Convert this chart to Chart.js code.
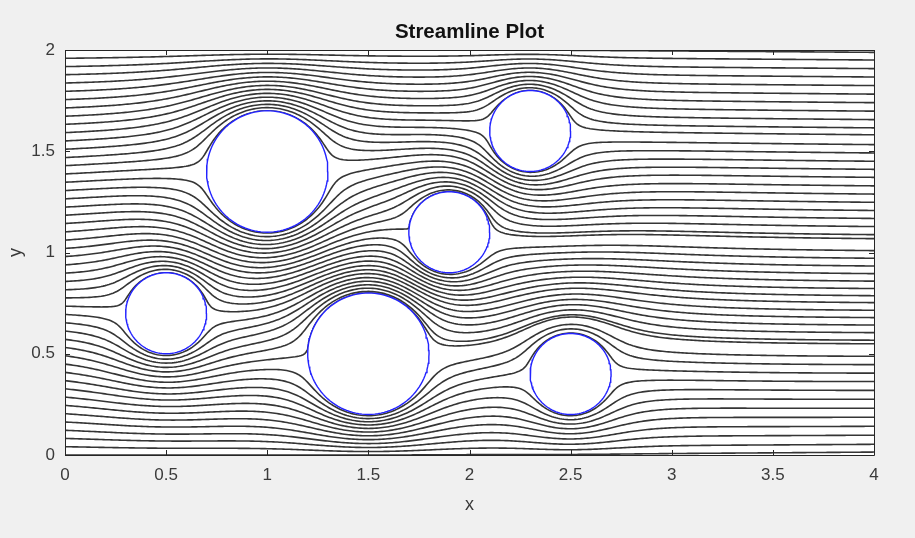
<!DOCTYPE html>
<html>
<head>
<meta charset="utf-8">
<script src="https://cdn.jsdelivr.net/npm/chart.js@4.4.1/dist/chart.umd.min.js"></script>
<style>
  html, body { margin: 0; padding: 0; background: #f0f0f0; }
</style>
</head>
<body>
<canvas id="c" width="915" height="538"></canvas>
<script>
// Cylindrical obstacles placed in the channel 0 <= x <= 4, 0 <= y <= 2
const obstacleX = [0.5, 1.0, 1.5, 1.9, 2.3, 2.5];
const obstacleY = [0.7, 1.4, 0.5, 1.1, 1.6, 0.4];
const obstacleR = [0.2, 0.3, 0.3, 0.2, 0.2, 0.2];

// Streamline start heights along the inlet x = 0
const seedY = [0, 0.041, 0.082, 0.122, 0.163, 0.204, 0.245, 0.286, 0.327, 0.367,
  0.408, 0.449, 0.490, 0.531, 0.571, 0.612, 0.653, 0.694, 0.735, 0.776,
  0.816, 0.857, 0.898, 0.939, 0.980, 1.020, 1.061, 1.102, 1.143, 1.184,
  1.224, 1.265, 1.306, 1.347, 1.388, 1.429, 1.469, 1.510, 1.551, 1.592,
  1.633, 1.673, 1.714, 1.755, 1.796, 1.837, 1.878, 1.918, 1.959, 2.0];

// Axis ticks
const xTicks = [0, 0.5, 1, 1.5, 2, 2.5, 3, 3.5, 4];
const yTicks = [0, 0.5, 1, 1.5, 2];

const X_MIN = 0, X_MAX = 4, Y_MIN = 0, Y_MAX = 2;
const FONT = "'Liberation Sans', Arial, Helvetica, sans-serif";
const TEXT = '#3a3a3a';

// ---- Potential flow through the channel ----------------------------------
// Uniform stream plus doublets. Each cylinder and each wall reflects the
// doublets of the others (circle theorem / mirror images), a few levels deep.
const reflectors = obstacleX.map((cx, i) => ({ kind: 'circle', cx, cy: obstacleY[i], r2: obstacleR[i] ** 2 }))
  .concat([{ kind: 'wall', y: Y_MIN }, { kind: 'wall', y: Y_MAX }]);

function reflect(d, r) {
  if (r.kind === 'wall') {
    return { mr: d.mr, mi: -d.mi, bx: d.bx, by: 2 * r.y - d.by };
  }
  const qx = d.bx - r.cx, qy = d.by - r.cy;
  const q2 = qx * qx + qy * qy;
  const q4 = q2 * q2;
  // mu' = -R^2 * conj(mu) * q^2 / |q|^4, placed at c + R^2 q / |q|^2
  const sr = (qx * qx - qy * qy) / q4, si = (2 * qx * qy) / q4;
  const cr = d.mr, ci = -d.mi;
  return {
    mr: -r.r2 * (cr * sr - ci * si),
    mi: -r.r2 * (cr * si + ci * sr),
    bx: r.cx + r.r2 * qx / q2,
    by: r.cy + r.r2 * qy / q2
  };
}

const doublets = [];
let generation = reflectors.slice(0, obstacleX.length).map((r, i) => ({ mr: r.r2, mi: 0, bx: r.cx, by: r.cy, src: i }));
doublets.push(...generation);
for (let lvl = 0; lvl < 4; lvl++) {
  const next = [];
  generation.forEach((d) => {
    reflectors.forEach((r, j) => {
      if (j === d.src) return;
      const img = reflect(d, r);
      img.src = j;
      if (Math.hypot(img.mr, img.mi) < 4e-4) return;
      if (img.by < -5 || img.by > 7) return;
      next.push(img);
    });
  });
  doublets.push(...next);
  generation = next;
}
const DN = doublets.length;
const dMr = new Float64Array(DN), dMi = new Float64Array(DN), dBx = new Float64Array(DN), dBy = new Float64Array(DN);
doublets.forEach((d, i) => { dMr[i] = d.mr; dMi[i] = d.mi; dBx[i] = d.bx; dBy[i] = d.by; });

function direction(x, y) {
  // dw/dz = 1 - sum mu / (z - b)^2 ; u = Re, v = -Im
  let re = 1, im = 0;
  for (let j = 0; j < DN; j++) {
    const dx = x - dBx[j], dy = y - dBy[j];
    const r2 = dx * dx + dy * dy;
    const r4 = r2 * r2;
    const a = (dx * dx - dy * dy) / r4, b = (-2 * dx * dy) / r4;
    re -= dMr[j] * a - dMi[j] * b;
    im -= dMr[j] * b + dMi[j] * a;
  }
  const u = re, v = -im;
  const m = Math.hypot(u, v) || 1e-12;
  return [u / m, v / m];
}

// Integrate a streamline by arc length (RK4) from the inlet to the outlet
function traceStreamline(y0) {
  const h = 0.005;
  let x = X_MIN, y = y0;
  const pts = [{ x, y }];
  for (let s = 0; s < 3000 && x < X_MAX; s++) {
    const k1 = direction(x, y);
    const k2 = direction(x + h / 2 * k1[0], y + h / 2 * k1[1]);
    const k3 = direction(x + h / 2 * k2[0], y + h / 2 * k2[1]);
    const k4 = direction(x + h * k3[0], y + h * k3[1]);
    x += h / 6 * (k1[0] + 2 * k2[0] + 2 * k3[0] + k4[0]);
    y += h / 6 * (k1[1] + 2 * k2[1] + 2 * k3[1] + k4[1]);
    y = Math.min(Y_MAX, Math.max(Y_MIN, y));
    // keep the path on or outside each cylinder wall
    for (let i = 0; i < obstacleX.length; i++) {
      const dx = x - obstacleX[i], dy = y - obstacleY[i];
      const d = Math.hypot(dx, dy);
      if (d < obstacleR[i]) {
        const sc = obstacleR[i] * 1.0005 / (d || 1e-9);
        x = obstacleX[i] + dx * sc;
        y = obstacleY[i] + dy * sc;
      }
    }
    if (s % 2 === 1 || x >= X_MAX) pts.push({ x, y });
  }
  return pts;
}

const streamSets = seedY.map((y0) => ({
  data: traceStreamline(y0),
  borderColor: '#353535',
  borderWidth: 1.6,
  pointRadius: 0,
  showLine: true,
  fill: false,
  tension: 0,
  order: 2
}));

// Cylinder outlines, filled white so they sit over the streamlines
const circleSets = obstacleX.map((cx, i) => {
  const pts = [];
  for (let a = 0; a <= 360; a += 3) {
    const t = a * Math.PI / 180;
    pts.push({ x: cx + obstacleR[i] * Math.cos(t), y: obstacleY[i] + obstacleR[i] * Math.sin(t) });
  }
  return {
    data: pts,
    borderColor: '#2323ff',
    borderWidth: 1.4,
    backgroundColor: '#ffffff',
    pointRadius: 0,
    showLine: true,
    fill: 'shape',
    tension: 0,
    order: 0
  };
});

// Grey figure background with a white axes area
const backdrop = {
  id: 'backdrop',
  beforeDraw(chart) {
    const { ctx, chartArea: a } = chart;
    ctx.save();
    ctx.fillStyle = '#f0f0f0';
    ctx.fillRect(0, 0, chart.width, chart.height);
    ctx.fillStyle = '#ffffff';
    ctx.fillRect(a.left, a.top, a.right - a.left, a.bottom - a.top);
    ctx.restore();
  }
};

// Box around the axes with inward tick marks on all four sides
const axesBox = {
  id: 'axesBox',
  afterDatasetsDraw(chart) {
    const { ctx, chartArea: a, scales } = chart;
    const tl = 5;
    ctx.save();
    ctx.strokeStyle = '#262626';
    ctx.lineWidth = 1;
    ctx.beginPath();
    ctx.rect(Math.round(a.left) + 0.5, Math.round(a.top) + 0.5,
      Math.round(a.right - a.left), Math.round(a.bottom - a.top));
    xTicks.forEach((v) => {
      const px = Math.round(scales.x.getPixelForValue(v)) + 0.5;
      ctx.moveTo(px, a.bottom); ctx.lineTo(px, a.bottom - tl);
      ctx.moveTo(px, a.top); ctx.lineTo(px, a.top + tl);
    });
    yTicks.forEach((v) => {
      const py = Math.round(scales.y.getPixelForValue(v)) + 0.5;
      ctx.moveTo(a.left, py); ctx.lineTo(a.left + tl, py);
      ctx.moveTo(a.right, py); ctx.lineTo(a.right - tl, py);
    });
    ctx.stroke();
    ctx.restore();
  }
};

new Chart(document.getElementById('c'), {
  type: 'scatter',
  data: { datasets: [...circleSets, ...streamSets] },
  plugins: [backdrop, axesBox],
  options: {
    responsive: false,
    animation: false,
    events: [],
    devicePixelRatio: 1,
    layout: { padding: { left: 0, right: 41, top: 0, bottom: 0 } },
    plugins: {
      legend: { display: false },
      tooltip: { enabled: false },
      title: { display: false }
    },
    scales: {
      x: {
        type: 'linear',
        min: X_MIN,
        max: X_MAX,
        afterFit(s) { s.height = 83; },
        afterBuildTicks(s) { s.ticks = xTicks.map((v) => ({ value: v })); },
        grid: { display: false, drawTicks: false },
        border: { display: false },
        ticks: {
          autoSkip: false, maxRotation: 0, padding: 10, color: TEXT,
          font: { family: FONT, size: 17 },
          callback: (v) => String(v)
        },
        title: {
          display: true, text: 'x', color: TEXT,
          font: { family: FONT, size: 18 },
          padding: { top: 0, bottom: 22 }
        }
      },
      // top axis carries the plot title, centred over the axes box
      top: {
        type: 'linear',
        position: 'top',
        min: X_MIN,
        max: X_MAX,
        afterFit(s) { s.height = 50; },
        grid: { display: false, drawTicks: false },
        border: { display: false },
        ticks: { display: false },
        title: {
          display: true, text: 'Streamline Plot', color: '#111111',
          font: { family: FONT, size: 20.5, weight: 'bold' },
          padding: { top: 20, bottom: 0 }
        }
      },
      y: {
        type: 'linear',
        min: Y_MIN,
        max: Y_MAX,
        afterFit(s) { s.width = 65; },
        afterBuildTicks(s) { s.ticks = yTicks.map((v) => ({ value: v })); },
        grid: { display: false, drawTicks: false },
        border: { display: false },
        ticks: {
          autoSkip: false, padding: 10, color: TEXT,
          font: { family: FONT, size: 17 },
          callback: (v) => String(v)
        },
        title: {
          display: true, text: 'y', color: TEXT,
          font: { family: FONT, size: 18 },
          padding: { top: 5, bottom: 0 }
        }
      }
    }
  }
});
</script>
</body>
</html>
